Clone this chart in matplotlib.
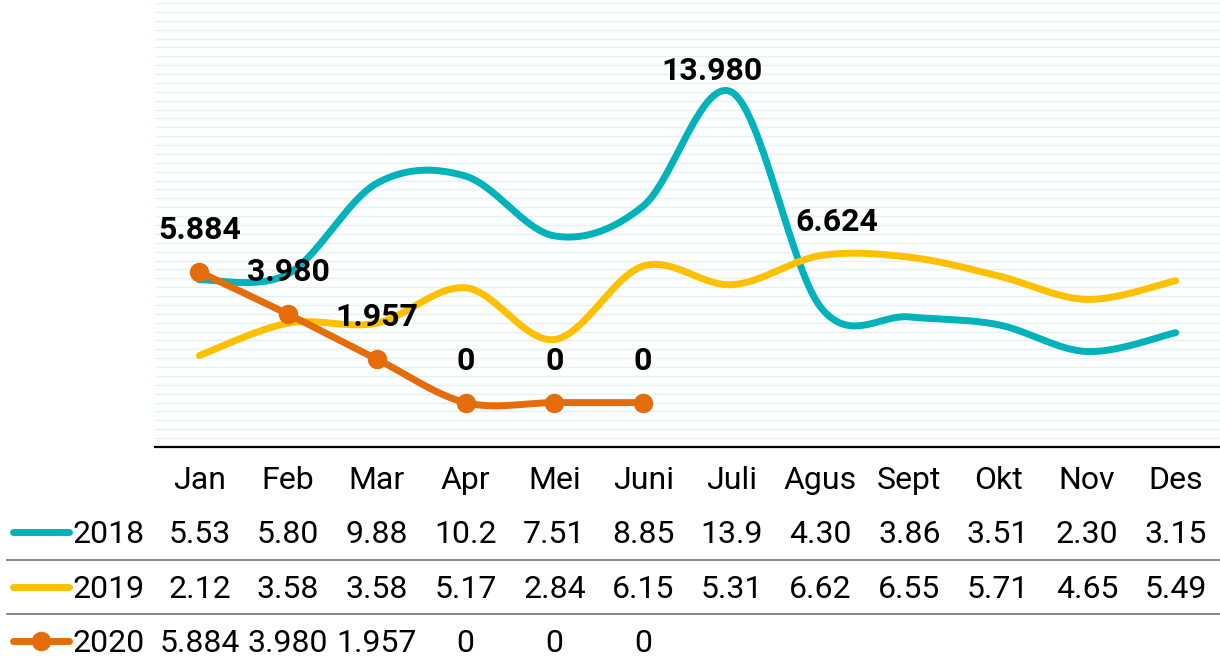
import math
import numpy as np
import matplotlib
matplotlib.use("Agg")
import matplotlib.pyplot as plt
import matplotlib.transforms as mtransforms
from matplotlib.lines import Line2D

# data
months = ["Jan", "Feb", "Mar", "Apr", "Mei", "Juni", "Juli", "Agus", "Sept", "Okt", "Nov", "Des"]
years = ["2018", "2019", "2020"]
v2018 = [5.53, 5.80, 9.88, 10.2, 7.51, 8.85, 13.980, 4.30, 3.86, 3.51, 2.30, 3.15]
v2019 = [2.12, 3.58, 3.58, 5.17, 2.84, 6.15, 5.31, 6.624, 6.55, 5.71, 4.65, 5.49]
v2020 = [5.884, 3.980, 1.957, 0, 0, 0]

TEAL = "#00B2BA"
YELLOW = "#FFC000"
ORANGE = "#E46C0A"

plt.rcParams["font.family"] = ["Roboto", "DejaVu Sans"]


def smooth(vals, n=40):
    # Excel style smoothed line (Catmull-Rom bezier)
    p = np.column_stack([np.arange(len(vals)), np.asarray(vals, float)])
    ext = np.vstack([p[0], p, p[-1]])
    out = []
    for i in range(len(p) - 1):
        p0, p1, p2, p3 = ext[i], ext[i + 1], ext[i + 2], ext[i + 3]
        c1 = p1 + (p2 - p0) / 6
        c2 = p2 - (p3 - p1) / 6
        t = np.linspace(0, 1, n)[:, None]
        seg = ((1 - t) ** 3) * p1 + 3 * ((1 - t) ** 2) * t * c1 + 3 * (1 - t) * t ** 2 * c2 + t ** 3 * p2
        out.append(seg if i == 0 else seg[1:])
    seg = np.vstack(out)
    return seg[:, 0], seg[:, 1]


def trunc_fmt(v):
    if v >= 10:
        return f"{math.floor(v * 10 + 1e-9) / 10:.1f}"
    return f"{math.floor(v * 100 + 1e-9) / 100:.2f}"


W, H = 1220, 656
fig = plt.figure(figsize=(W / 100, H / 100), dpi=100)
ax = fig.add_axes([155 / W, 1 - 447 / H, 1065 / W, 444 / H])
ax.set_xlim(-0.5, 11.5)
ax.set_ylim(-2, 18)

for g in np.arange(-1.6, 18.01, 0.4):
    ax.axhline(g, color="#E3F3F5", lw=1.0, zorder=0)

x = np.arange(len(months))
sx, sy = smooth(v2018)
ax.plot(sx, sy, color=TEAL, lw=5, solid_capstyle="round", zorder=3)
sx, sy = smooth(v2019)
ax.plot(sx, sy, color=YELLOW, lw=5, solid_capstyle="round", zorder=3)
sx, sy = smooth(v2020)
ax.plot(sx, sy, color=ORANGE, lw=5, solid_capstyle="round", zorder=4)
ax.plot(x[:len(v2020)], v2020, "o", color=ORANGE, ms=13, zorder=5)

lab_kw = dict(textcoords="offset pixels", ha="center", va="baseline",
              fontsize=23, fontweight="bold", color="black", zorder=6)
for i, v in enumerate(v2020):
    s = f"{v:.3f}" if v else "0"
    ax.annotate(s, (x[i], v), xytext=(0, 33), **lab_kw)
ax.annotate(f"{v2018[6]:.3f}", (x[6], v2018[6]), xytext=(-20, 12), **lab_kw)
ax.annotate(f"{v2019[7]:.3f}", (x[7], v2019[7]), xytext=(16, 25), **lab_kw)

for side in ["top", "left", "right"]:
    ax.spines[side].set_visible(False)
ax.spines["bottom"].set_color("black")
ax.spines["bottom"].set_linewidth(1.6)
ax.set_xticks([])
ax.set_yticks([])

# data table below the plot, pixel coordinates for rows
ov = fig.add_axes([0, 0, 1, 1], zorder=-1)
ov.set_xlim(0, W)
ov.set_ylim(H, 0)
ov.axis("off")
ov.patch.set_alpha(0)
bt = mtransforms.blended_transform_factory(ax.transData, ov.transData)

tk = dict(fontsize=23, ha="center", va="baseline", color="black")
for i, m in enumerate(months):
    fig.text(0, 0, "")
    ov.text(x[i], 489, m, transform=bt, **tk)

rows = [
    (years[0], [trunc_fmt(v) for v in v2018], 543, TEAL, False),
    (years[1], [trunc_fmt(v) for v in v2019], 598, YELLOW, False),
    (years[2], [f"{v:.3f}" if v else "0" for v in v2020], 652, ORANGE, True),
]
for name, labels, base, col, mk in rows:
    cy = base - 11
    ov.add_line(Line2D([13, 69], [cy, cy], color=col, lw=5, solid_capstyle="round"))
    if mk:
        ov.plot([41], [cy], "o", color=col, ms=13)
    ov.text(73, base, name, fontsize=23, ha="left", va="baseline", color="black")
    for i, s in enumerate(labels):
        ov.text(x[i], base, s, transform=bt, **tk)

for yy in [560, 614]:
    ov.add_line(Line2D([7, W], [yy, yy], color="#7F7F7F", lw=1.3))

fig.savefig("out.png", dpi=100)
